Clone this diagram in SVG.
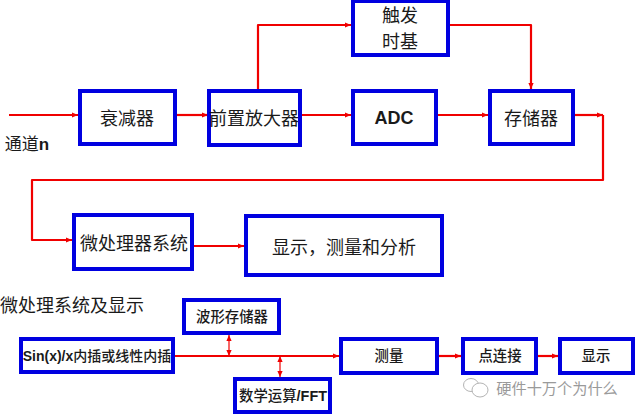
<svg xmlns="http://www.w3.org/2000/svg" width="640" height="416" viewBox="0 0 640 416">
<style>
.b{fill:#fff;stroke:#0000e0;stroke-width:4}
.w{fill:none;stroke:#f00000;stroke-width:2.2;stroke-linejoin:round}
.a{marker-end:url(#m)}
.d{marker-start:url(#s);marker-end:url(#s);stroke-width:1.2}
text{font-family:"Noto Sans CJK SC","Liberation Sans",sans-serif;fill:#1a1a1a;text-anchor:middle}
.l{font-size:18px}
.s{font-size:14.4px;font-weight:500}
.e{font-family:"Liberation Sans",Arial,sans-serif;font-weight:bold}
</style>
<defs>
<marker id="m" markerUnits="userSpaceOnUse" viewBox="0 0 6 6" refX="6" refY="3" markerWidth="6" markerHeight="6" orient="auto"><path d="M0 0.4L6 3L0 5.6z" fill="#f00000"/></marker>
<marker id="s" markerUnits="userSpaceOnUse" viewBox="0 0 6 6" refX="6" refY="3" markerWidth="6" markerHeight="6" orient="auto-start-reverse"><path d="M0 0.4L6 3L0 5.6z" fill="#f00000"/></marker>
</defs>
<rect width="640" height="416" fill="#fff"/>
<g id="connectors">
<path class="w a" d="M9 115H78"/>
<path class="w a" d="M176 115H208"/>
<path class="w a" d="M301 115H351"/>
<path class="w a" d="M258 89V25H351"/>
<path class="w a" d="M438 115H488"/>
<path class="w a" d="M450 25H531V89"/>
<path class="w a" d="M574 115H603"/>
<path class="w a" d="M603 115V180H32V240H72"/>
<path class="w a" d="M194 246H244"/>
<path class="w a" d="M175 356H339"/>
<path class="w a" d="M439 356H461"/>
<path class="w a" d="M538 356H558"/>
<path class="w d" d="M229 335V356"/>
<path class="w d" d="M280 356V377"/>
</g>
<g id="attenuator"><rect class="b" x="80" y="91" width="95" height="53"/><text class="l" x="127" y="125">衰减器</text></g>
<g id="preamp"><rect class="b" x="209" y="91" width="91" height="54"/><text class="l" x="254" y="125">前置放大器</text></g>
<g id="trigger"><rect class="b" x="353" y="1" width="95" height="54"/><text class="l" x="400" y="22">触发</text><text class="l" x="400" y="48">时基</text></g>
<g id="adc"><rect class="b" x="353" y="91" width="83" height="53"/><text class="l e" x="394" y="124">ADC</text></g>
<g id="memory"><rect class="b" x="490" y="91" width="83" height="53"/><text class="l" x="531" y="125">存储器</text></g>
<g id="channel-label"><text class="l" x="27" y="150" style="font-size:17px">通道<tspan class="e">n</tspan></text></g>
<g id="mcu"><rect class="b" x="74" y="215" width="118" height="54"/><text class="l" x="134" y="250">微处理器系统</text></g>
<g id="display-measure"><rect class="b" x="246" y="216" width="196" height="59"/><text class="l" x="344" y="254">显示，测量和分析</text></g>
<g id="section-label"><text class="l" x="72" y="312">微处理系统及显示</text></g>
<g id="waveform-memory"><rect class="b" x="184" y="300" width="95" height="33"/><text class="s" x="232" y="322">波形存储器</text></g>
<g id="interp"><rect class="b" x="21" y="339" width="152" height="33"/><text class="s" x="97" y="361" style="font-size:14px"><tspan class="e">Sin(x)/x</tspan>内插或线性内插</text></g>
<g id="math"><rect class="b" x="235" y="379" width="95" height="33"/><text class="s" x="283" y="401">数学运算<tspan class="e">/FFT</tspan></text></g>
<g id="measure"><rect class="b" x="341" y="339" width="96" height="34"/><text class="s" x="389" y="361">测量</text></g>
<g id="connect"><rect class="b" x="463" y="339" width="73" height="34"/><text class="s" x="500" y="361">点连接</text></g>
<g id="display"><rect class="b" x="560" y="339" width="73" height="34"/><text class="s" x="596" y="361">显示</text></g>
<g id="watermark" fill="none" stroke="#b4b4b4" stroke-width="1">
<ellipse cx="471" cy="385" rx="7.5" ry="6.5"/><ellipse cx="480" cy="390" rx="8" ry="7" fill="#fff"/>
<text x="557" y="394" style="font-size:15.2px;fill:#9a9a9a;stroke:none">硬件十万个为什么</text>
</g>
</svg>
